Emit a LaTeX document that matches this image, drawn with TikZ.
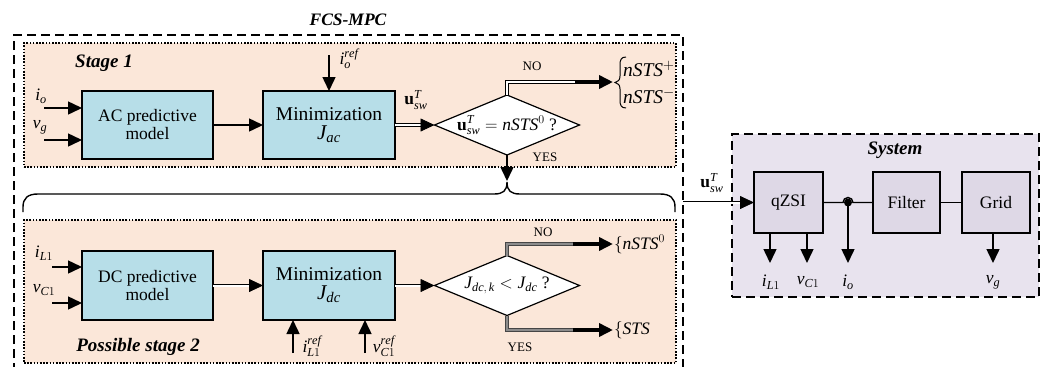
\documentclass[tikz,border=0pt]{standalone}
\usepackage{fontspec}
\setmainfont{Liberation Serif}
\usetikzlibrary{arrows.meta,shapes.geometric}
\definecolor{peach}{RGB}{251,231,217}
\definecolor{aqua}{RGB}{183,222,232}
\definecolor{lilac}{RGB}{232,227,238}
\definecolor{lilacbox}{RGB}{222,216,230}
\definecolor{midgray}{RGB}{140,140,140}
\definecolor{edgegray}{RGB}{70,70,70}
\newcommand{\mi}[1]{\mathit{#1}}
\newcommand{\usw}{\mathbf{u}_{\mi{sw}}^{\mi{T}}}
\begin{document}
\begin{tikzpicture}[x=1pt,y=-1pt,
  every node/.style={inner sep=0pt,outer sep=0pt,font=\fontsize{17.5}{20}\selectfont},
  tip/.style={-{Triangle[length=14pt,width=13pt]}},
  sig/.style={line width=1.5pt,tip},
  dbl/.style={draw=black,line width=0.8pt,double=white,double distance=2pt,tip},
  dblplain/.style={draw=black,line width=0.8pt,double=white,double distance=2pt},
  dblgray/.style={draw=edgegray,line width=0.9pt,double=midgray,double distance=2pt},
  solidend/.style={line width=3.6pt,tip},
  block/.style={draw,line width=1.2pt,fill=aqua,minimum width=131pt,minimum height=68pt,align=center},
  sysblock/.style={draw,line width=1.2pt,fill=lilacbox,minimum width=68pt,minimum height=61pt},
  dia/.style={draw,line width=1.2pt,fill=white,shape=diamond,aspect=2.42,minimum width=145pt,minimum height=60pt},
  stagebox/.style={draw,line width=1.1pt,dash pattern=on 1.6pt off 1.6pt,fill=peach},
  outerbox/.style={line width=1.2pt,dash pattern=on 9pt off 5pt},
  title/.style={font=\fontsize{19}{22}\selectfont\bfseries\itshape},
  small/.style={font=\fontsize{13}{15}\selectfont},
  big/.style={font=\fontsize{19.5}{22}\selectfont},
]
\useasboundingbox (0,0) rectangle (1045,367);
\clip (0,0) rectangle (1045,367);

% FCS-MPC frame (open at the bottom)
\draw[outerbox] (14,372) -- (14,35) -- (683,35) -- (683,372);
\node[font=\fontsize{17.5}{20}\selectfont\bfseries\itshape] (fcs) at (348,20) {FCS-MPC};

% stage frames
\node[stagebox,minimum width=652pt,minimum height=124pt] (st1) at (350,105) {};
\node[stagebox,minimum width=652pt,minimum height=143pt] (st2) at (350,291.5) {};
\node[title] (st1t) at (104,63) {Stage 1};
\node[title] (st2t) at (138,347) {Possible stage 2};

% ---- stage 1 ----
\node[block] (ac) at (147.5,125) {AC predictive\\[-2pt]model};
\node[block,minimum width=132pt] (min1) at (329,125) {\fontsize{19.5}{22}\selectfont Minimization\\[-1pt]\fontsize{21}{24}\selectfont$\mi{J}_{\mi{ac}}$};
\node[dia] (d1) at (507,125) {};
\node (d1t) at (d1.center) {$\usw = \mi{nSTS}^{0}$ ?};

\coordinate (in1) at (44,108);
\coordinate (in2) at (44,140);
\draw[sig] (in1) -- (in1 -| ac.west);
\draw[sig] (in2) -- (in2 -| ac.west);
\node (lio) at (41,96) {$\mi{i}_{\mi{o}}$};
\node (lvg) at (40,127) {$\mi{v}_{\mi{g}}$};
\draw[sig] (ac.east) -- (min1.west);

\coordinate (ioref) at (329,55);
\draw[sig] (ioref) -- (min1.north);
\node (lioref) at (349,59) {$\mi{i}_{\mi{o}}^{\mi{ref}}$};

\draw[dbl] (min1.east) -- (d1.west);
\node (lu1) at (416,100) {$\usw$};

% NO branch: double line ending in a solid stretch
\coordinate (no1m) at (575,82);
\coordinate (no1) at (613,82);
\draw[dblplain] (d1.north) |- (no1m);
\draw[solidend] (no1m) -- (no1);
\node[small] (no1t) at (532,66) {NO};
% curly brace grouping the two alternatives
\draw[line width=1pt] (626,57) .. controls (621,57) and (620,60) .. (620,65) -- (620,76)
  .. controls (620,80) and (618,82) .. (615,82.5)
  .. controls (618,83) and (620,85) .. (620,89) -- (620,100)
  .. controls (620,105) and (621,108) .. (626,108);
\node[anchor=west,big] (sp) at (623,69) {$\mi{nSTS}^{+}$};
\node[anchor=west,big] (sm) at (623,96) {$\mi{nSTS}^{-}$};

\coordinate (yes1) at (507,181);
\draw[sig] (d1.south) -- (yes1);
\node[small] (yes1t) at (545,157) {YES};

% brace joining both stages
\draw[line width=1.4pt] (23,212) -- (23,207) .. controls (23,198) and (28,194) .. (38,194)
  -- (494,194) .. controls (503,194) and (507,191) .. (507,182)
  .. controls (507,191) and (511,194) .. (520,194)
  -- (660,194) .. controls (670,194) and (675,198) .. (675,207) -- (675,212);

% ---- stage 2 ----
\node[block,minimum height=69pt] (dc) at (147.5,285.5) {DC predictive\\[-2pt]model};
\node[block,minimum width=132pt,minimum height=69pt] (min2) at (329,285.5) {\fontsize{19.5}{22}\selectfont Minimization\\[-1pt]\fontsize{21}{24}\selectfont$\mi{J}_{\mi{dc}}$};
\node[dia] (d2) at (507,285.5) {};
\node (d2t) at (d2.center) {$\mi{J}_{\mi{dc},\,\mi{k}} < \mi{J}_{\mi{dc}}$ ?};

\coordinate (in3) at (52,267);
\coordinate (in4) at (52,303);
\draw[sig] (in3) -- (in3 -| dc.west);
\draw[sig] (in4) -- (in4 -| dc.west);
\node (liL) at (44,253) {$\mi{i}_{\mi{L}1}$};
\node (lvC) at (44,290) {$\mi{v}_{\mi{C}1}$};
\draw[dbl] (dc.east) -- (min2.west);

\coordinate (iLref) at (293,353);
\coordinate (vCref) at (365,353);
\draw[sig] (iLref) -- (iLref |- min2.south);
\draw[sig] (vCref) -- (vCref |- min2.south);
\node (liLref) at (312,346) {$\mi{i}_{\mi{L}1}^{\mi{ref}}$};
\node (lvCref) at (384,346) {$\mi{v}_{\mi{C}1}^{\mi{ref}}$};

\draw[dbl] (min2.east) -- (d2.west);

\coordinate (no2m) at (573,244);
\coordinate (no2) at (613,244);
\coordinate (yes2m) at (573,330);
\coordinate (yes2) at (613,330);
\draw[dblgray] (d2.north) |- (no2m);
\draw[dblgray] (d2.south) |- (yes2m);
\draw[solidend] (no2m) -- (no2);
\draw[solidend] (yes2m) -- (yes2);
\node[small] (no2t) at (543,232) {NO};
\node[small] (yes2t) at (520,347) {YES};
\node[anchor=west] (s0) at (614,244) {$\{\mi{nSTS}^{0}$};
\node[anchor=west] (s1) at (614,330) {$\{\mi{STS}$};

% ---- plant ----
\node[draw,line width=1.2pt,dash pattern=on 9pt off 5pt,fill=lilac,minimum width=307pt,minimum height=163pt] (sys) at (885.5,215.5) {};
\node[title] (syst) at (895,150) {System};
\node[sysblock,minimum width=69pt] (qz) at (788.5,202.5) {qZSI};
\node[sysblock,minimum width=67pt] (fl) at (906.5,202.5) {Filter};
\node[sysblock] (gr) at (996,202.5) {Grid};

\coordinate (uin) at (683,202.5);
\draw[dbl] (uin) -- (qz.west);
\node (lu2) at (712,183) {$\usw$};

\draw[line width=1.4pt] (qz.east) -- (843,202.5) arc (180:360:5) -- (fl.west);
\draw[line width=1.4pt] (fl.east) -- (gr.west);
\node[circle,fill,minimum size=8pt] (dot) at (848,202.5) {};

\coordinate (oiL) at (770,263);
\coordinate (ovC) at (807,263);
\coordinate (oio) at (848,263);
\coordinate (ovg) at (993,263);
\draw[sig] (oiL |- qz.south) -- (oiL);
\draw[sig] (ovC |- qz.south) -- (ovC);
\draw[sig] (dot.center) -- (oio);
\draw[sig] (ovg |- gr.south) -- (ovg);
\node (liL2) at (771,282) {$\mi{i}_{\mi{L}1}$};
\node (lvC2) at (808,282) {$\mi{v}_{\mi{C}1}$};
\node (lio2) at (848,282) {$\mi{i}_{\mi{o}}$};
\node (lvg2) at (993,282) {$\mi{v}_{\mi{g}}$};
\end{tikzpicture}
\end{document}
